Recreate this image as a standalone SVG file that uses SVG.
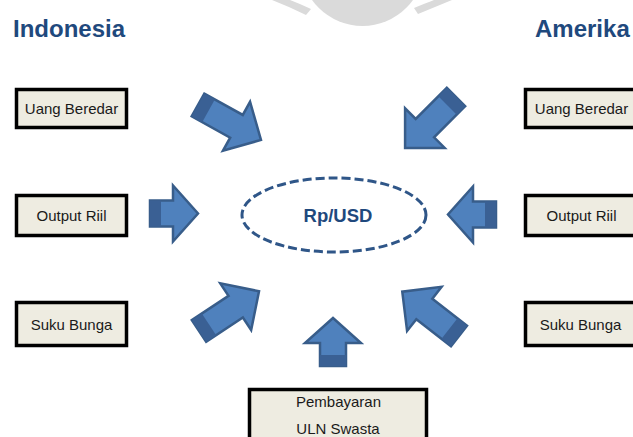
<svg xmlns="http://www.w3.org/2000/svg" xmlns:xlink="http://www.w3.org/1999/xlink" width="633" height="437" viewBox="0 0 633 437">
  <style>
    .title { font-family: "Liberation Sans", Arial, sans-serif; font-weight: bold; font-size: 24px; fill: #1F497D; }
    .box { fill: #EEECE1; stroke: #000000; stroke-width: 3.5; }
    .lbl { font-family: "Liberation Sans", Arial, sans-serif; font-size: 15px; fill: #1a1a1a; text-anchor: middle; }
    .center { font-family: "Liberation Sans", Arial, sans-serif; font-weight: bold; font-size: 18.5px; fill: #1F497D; text-anchor: middle; }
    .ell { fill: none; stroke: #2F5688; stroke-width: 3; stroke-dasharray: 9 4; }
    .arw { fill: #4F81BD; stroke: #385D8A; stroke-width: 2.5; stroke-linejoin: miter; }
    .tail { fill: #3A6094; }
    .wm { fill: #DADADA; }
  </style>
  <defs>
    <g id="arrowShort">
      <polygon class="arw" points="0,-13 23,-13 23,-28 48,0 23,28 23,13 0,13"/>
      <rect class="tail" x="0" y="-13" width="11" height="26"/>
    </g>
    <g id="arrowLong">
      <polygon class="arw" points="0,-13 44,-13 44,-28 72,0 44,28 44,13 0,13"/>
      <rect class="tail" x="0" y="-13" width="12" height="26"/>
    </g>
  </defs>
  <rect x="0" y="0" width="633" height="437" fill="#FFFFFF"/>

  <!-- faint watermark -->
  <g id="watermark">
    <circle class="wm" cx="362.5" cy="-36" r="62"/>
    <path class="wm" d="M272,0 Q290,7 306,15 L311,9 Q298,3 290,0 Z"/>
    <path class="wm" d="M452,0 Q435,7 418,14 L414,8 Q426,3 434,0 Z"/>
  </g>

  <text class="title" x="13" y="37">Indonesia</text>
  <text class="title" x="535" y="37">Amerika</text>

  <g id="connectors">
    <use xlink:href="#arrowShort" transform="translate(150,213.5)"/>
    <use xlink:href="#arrowShort" transform="translate(496,214.5) rotate(180)"/>
    <use xlink:href="#arrowShort" transform="translate(333,366) rotate(-90)"/>
    <use xlink:href="#arrowLong" transform="translate(198,105) rotate(29)"/>
    <use xlink:href="#arrowLong" transform="translate(456,97) rotate(135)"/>
    <use xlink:href="#arrowLong" transform="translate(199,331) rotate(-33.5)"/>
    <use xlink:href="#arrowLong" transform="translate(459,336) rotate(218)"/>
  </g>

  <g id="rpusd">
    <ellipse class="ell" cx="334" cy="215" rx="92" ry="37"/>
    <text class="center" x="338" y="222">Rp/USD</text>
  </g>

  <g id="id-uang">
    <rect class="box" x="16.5" y="89.5" width="110" height="38"/>
    <text class="lbl" x="71.5" y="114">Uang Beredar</text>
  </g>
  <g id="id-output">
    <rect class="box" x="16.5" y="195.5" width="110" height="40"/>
    <text class="lbl" x="71.5" y="221">Output Riil</text>
  </g>
  <g id="id-suku">
    <rect class="box" x="16.5" y="302.5" width="110" height="43"/>
    <text class="lbl" x="71.5" y="330">Suku Bunga</text>
  </g>

  <g id="us-uang">
    <rect class="box" x="525.5" y="89.5" width="111" height="38"/>
    <text class="lbl" x="581.5" y="114">Uang Beredar</text>
  </g>
  <g id="us-output">
    <rect class="box" x="525.5" y="195.5" width="111" height="40"/>
    <text class="lbl" x="581.5" y="221">Output Riil</text>
  </g>
  <g id="us-suku">
    <rect class="box" x="525.5" y="302.5" width="111" height="43"/>
    <text class="lbl" x="580.5" y="330">Suku Bunga</text>
  </g>

  <g id="uln">
    <rect class="box" x="249.5" y="389.5" width="177" height="60"/>
    <text class="lbl" x="338.5" y="407">Pembayaran</text>
    <text class="lbl" x="338" y="434">ULN Swasta</text>
  </g>
</svg>
